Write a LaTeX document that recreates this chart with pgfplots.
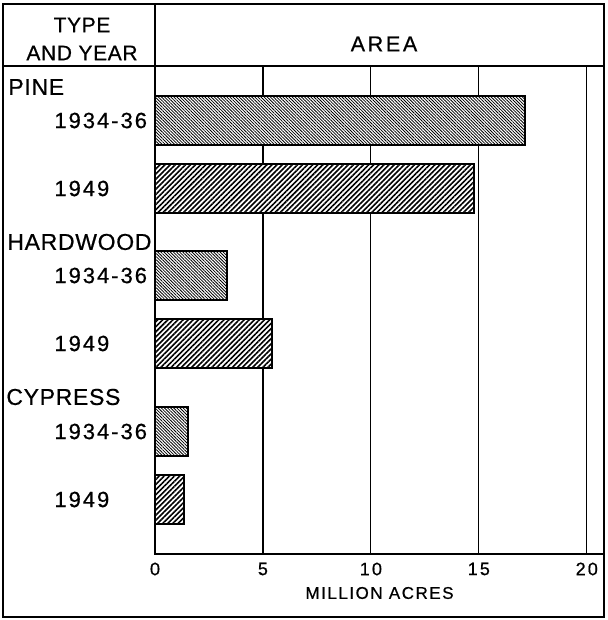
\documentclass[border=0pt]{standalone}
\usepackage{pgfplots}
\pgfplotsset{compat=1.18}
\usepackage{fontspec}
\setmainfont{Liberation Sans}
\newfontfamily\wide[LetterSpace=9,FakeBold=0.6]{Liberation Sans}
\newfontfamily\wider[LetterSpace=12,FakeBold=0.6]{Liberation Sans}
\newfontfamily\tight[LetterSpace=3,FakeBold=0.6]{Liberation Sans}
\usetikzlibrary{patterns.meta}

\begin{document}
\begin{tikzpicture}[x=1pt,y=1pt]
\useasboundingbox (0,0) rectangle (303.5,310);
\begin{axis}[
  at={(77.5pt,33pt)}, anchor=south west,
  scale only axis, width=224.5pt, height=244pt,
  xbar, bar shift=0pt, bar width=49,
  xmin=0, xmax=20.8,
  ymin=66, ymax=554, y dir=reverse,
  axis line style={line width=1pt},
  xtick={0,5,10,15,20},
  xmajorgrids, grid style={black, line width=0.6pt},
  major tick length=0pt,
  ytick={120.5,188.5,275.5,343.5,431.5,499.5},
  yticklabels={1934-36,1949,1934-36,1949,1934-36,1949},
  yticklabel style={anchor=west, inner sep=0pt, xshift=-50.5pt,
    font=\wide\fontsize{11}{12}\selectfont},
  /pgf/number format/assume math mode=true,
  xticklabel style={anchor=center, yshift=-7.5pt,
    font=\wider\fontsize{9}{10}\selectfont},
  xlabel={MILLION ACRES},
  xlabel style={at={(axis description cs:0.5,0)}, anchor=center, yshift=-19.5pt,
    font=\wide\fontsize{8.5}{10}\selectfont},
]
% 1934-36
\addplot[draw=black, line width=1pt, preaction={fill=white},
  pattern={Lines[angle=-45,distance=1.1pt,line width=0.4pt]}]
  coordinates {(17.15,120.5) (3.32,275.5) (1.52,431.5)};
% 1949
\addplot[draw=black, line width=1pt, preaction={fill=white},
  pattern={Lines[angle=45,distance=1.8pt,line width=0.8pt]}]
  coordinates {(14.8,188.5) (5.43,343.5) (1.34,499.5)};
\end{axis}
% frame and header
\draw[line width=1pt] (1.5,1.5) rectangle (302,308);
\draw[line width=1pt] (1.5,277) -- (302,277);
\draw[line width=1pt] (77.5,277) -- (77.5,308);
\node[font=\tight\fontsize{10.5}{12}\selectfont] at (41,297.5) {TYPE};
\node[font=\tight\fontsize{10.5}{12}\selectfont] at (41,283.5) {AND YEAR};
\node[font=\wider\fontsize{10.8}{12}\selectfont] at (192,288) {AREA};
\node[anchor=west, inner sep=0pt, font=\tight\fontsize{11.5}{12}\selectfont] at (4,266.5) {PINE};
\node[anchor=west, inner sep=0pt, font=\tight\fontsize{11.5}{12}\selectfont] at (3.5,189) {HARDWOOD};
\node[anchor=west, inner sep=0pt, font=\tight\fontsize{11.5}{12}\selectfont] at (3,111.5) {CYPRESS};
\end{tikzpicture}
\end{document}
